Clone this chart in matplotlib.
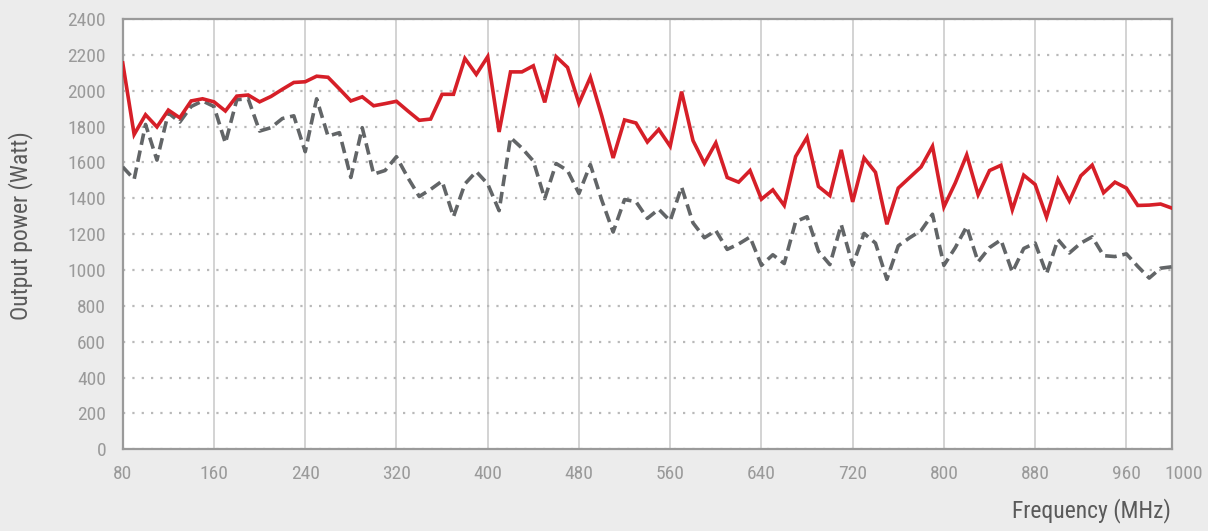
import numpy as np
import matplotlib
matplotlib.use("Agg")
import matplotlib.pyplot as plt
import matplotlib.transforms as mtransforms
from matplotlib import font_manager

# pick a narrow font if one is installed
names = {f.name for f in font_manager.fontManager.ttflist}
family = 'DejaVu Sans'
for cand in ['Liberation Sans Narrow', 'DejaVu Sans Condensed', 'Roboto Condensed']:
    if cand in names:
        family = cand
        break
plt.rcParams['font.family'] = [family, 'DejaVu Sans']

# frequency in MHz, one point every 10 MHz
freq = list(range(80, 1001, 10))

power_red = [2155, 1756, 1866, 1798, 1892, 1849, 1943, 1955, 1938, 1887,
             1970, 1976, 1938, 1968, 2008, 2046, 2050, 2081, 2075, 2010,
             1943, 1966, 1916, 1928, 1941, 1887, 1835, 1842, 1980, 1980,
             2180, 2091, 2190, 1770, 2105, 2105, 2139, 1935, 2190, 2130,
             1930, 2075, 1860, 1625, 1837, 1820, 1714, 1784, 1690, 1995,
             1722, 1595, 1709, 1516, 1490, 1555, 1395, 1447, 1360, 1633,
             1740, 1466, 1415, 1670, 1380, 1625, 1545, 1255, 1457, 1516,
             1575, 1690, 1352, 1486, 1642, 1420, 1555, 1584, 1336, 1529,
             1477, 1295, 1506, 1385, 1525, 1585, 1431, 1490, 1457, 1360,
             1362, 1368, 1345]

power_gray = [1575, 1506, 1812, 1613, 1876, 1825, 1912, 1943, 1912, 1708,
              1950, 1955, 1775, 1794, 1845, 1860, 1660, 1955, 1747, 1766,
              1516, 1794, 1535, 1555, 1632, 1515, 1410, 1450, 1496, 1297,
              1480, 1549, 1480, 1331, 1739, 1680, 1608, 1398, 1594, 1555,
              1427, 1588, 1390, 1212, 1393, 1381, 1288, 1339, 1274, 1463,
              1263, 1180, 1220, 1115, 1145, 1184, 1026, 1085, 1036, 1270,
              1297, 1105, 1030, 1253, 1026, 1204, 1150, 948, 1135, 1180,
              1220, 1311, 1026, 1125, 1243, 1045, 1125, 1168, 988, 1120,
              1150, 979, 1170, 1095, 1150, 1185, 1080, 1075, 1090, 1020,
              955, 1010, 1018]

xticks = [80, 160, 240, 320, 400, 480, 560, 640, 720, 800, 880, 960, 1000]
yticks = list(range(0, 2401, 200))

bg = '#ececec'
fig = plt.figure(figsize=(12.08, 5.31), dpi=100, facecolor=bg)
ax = fig.add_axes([0.1016, 0.1539, 0.8686, 0.8103])
ax.set_facecolor('white')

ax.plot(freq, power_gray, color='#626567', lw=2.6, ls=(0, (3.2, 1.6)),
        dash_capstyle='butt', zorder=3)
ax.plot(freq, power_red, color='#d61f28', lw=2.6, solid_joinstyle='miter',
        zorder=4)

ax.set_xlim(80, 1000)
ax.set_ylim(0, 2400)
ax.set_xticks(xticks)
ax.set_yticks(yticks)

# gridlines: solid vertical, dotted horizontal
ax.grid(True, axis='x', color='#c8c8c8', lw=1.1, ls='-', zorder=1)
ax.grid(True, axis='y', color='#b9b9b9', lw=1.6, ls=(0, (1, 3.2)), zorder=1)

for s in ax.spines.values():
    s.set_color('#9a9a9a')
    s.set_linewidth(1.6)

ax.tick_params(axis='both', length=0, labelsize=14, labelcolor='#9a9a9a')
ax.tick_params(axis='x', pad=11)
ax.tick_params(axis='y', pad=12)

# last label sits a bit to the right of the edge
lab = ax.get_xticklabels()[-1]
lab.set_transform(lab.get_transform() +
                  mtransforms.ScaledTranslation(12 / 100, 0, fig.dpi_scale_trans))

fig.text(21 / 1208, 1 - 226 / 531, 'Output power (Watt)', rotation=90,
         ha='center', va='center', fontsize=17, color='#5a5a5a')
fig.text(1171 / 1208, 1 - 511 / 531, 'Frequency (MHz)', ha='right',
         va='center', fontsize=17, color='#5a5a5a')

fig.savefig('out.png', dpi=100, facecolor=bg)
